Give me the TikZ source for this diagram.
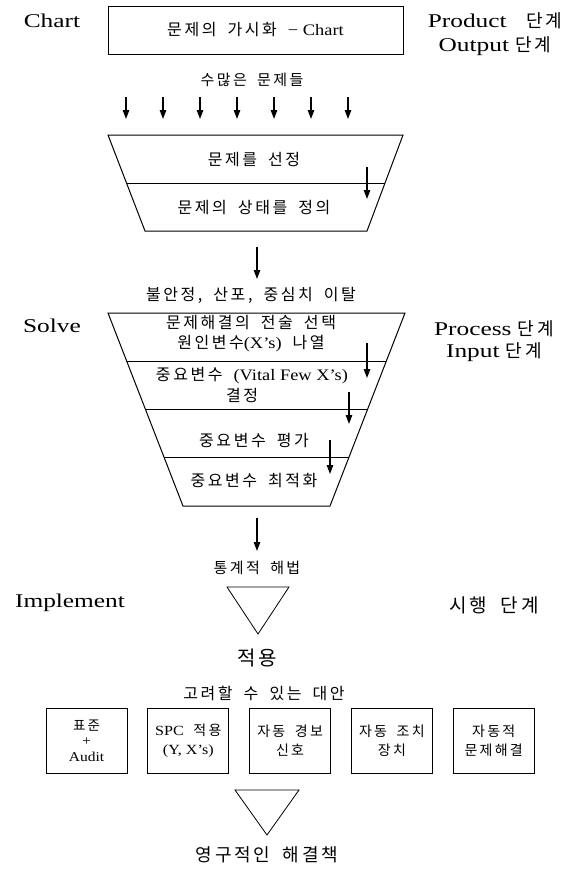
\documentclass[tikz,border=0pt]{standalone}
\usepackage{fontspec}
\setmainfont{Liberation Serif}[FakeStretch=1.15]
\newfontfamily\lat{Liberation Serif}[FakeStretch=1.3]
\newfontfamily\kr{Noto Sans CJK KR}[LetterSpace=16,WordSpace=1.8]
\usetikzlibrary{arrows.meta,positioning,calc}

\begin{document}
\begin{tikzpicture}[x=1pt, y=-1pt, node distance=20pt]
    \tikzstyle{stage} = [font=\lat\fontsize{19.5}{24}\selectfont, inner sep=0pt]
    \tikzstyle{phase} = [font=\kr\fontsize{19}{22}\selectfont, inner sep=0pt]
    \tikzstyle{band} = [font=\kr\fontsize{16}{20}\selectfont, inner sep=0pt, align=center]
    \tikzstyle{note} = [font=\kr\fontsize{15}{18}\selectfont, inner sep=0pt]
    \tikzstyle{alt} = [rectangle, draw, line width=0.8pt, minimum width=81pt, minimum height=65pt, inner sep=0pt, align=center, font=\kr\fontsize{14}{19}\selectfont]
    \tikzstyle{outline} = [draw, line width=1pt]
    \tikzstyle{line} = [draw, line width=1.2pt, -{Triangle[length=9pt,width=6.5pt]}]

    \useasboundingbox (0,0) rectangle (576,870);

    % stage labels
    \node [stage] (chart) at (52,21) {Chart};
    \node [stage] (solve) at (52,326) {Solve};
    \node [stage] (impl) at (70,603) {Implement};
    \node [stage] (prod) at (495,21) {Product\quad{\kr\fontsize{18}{20}\selectfont 단계}};
    \node [stage] (outp) at (495,46) {Output {\kr\fontsize{18}{20}\selectfont 단계}};
    \node [stage] (proc) at (494,329) {Process {\kr\fontsize{18}{20}\selectfont 단계}};
    \node [stage] (inp) at (494,352) {Input {\kr\fontsize{18}{20}\selectfont 단계}};
    \node [phase] (exec) at (494,605) {시행 단계};

    % chart
    \node [rectangle, draw, line width=0.8pt, minimum width=295pt, minimum height=48pt, band] (vis) at (255.5,30) {문제의 가시화 {\rmfamily − Chart}};
    \node [note] (many) at (252,80) {수많은 문제들};
    \foreach \i in {0,...,6} {
        \coordinate (p\i) at (126+37*\i,97);
        \coordinate (q\i) at (126+37*\i,119);
        \path [line] (p\i) -- (q\i);
    }

    % first funnel
    \coordinate (f1a) at (108,135);
    \coordinate (f1b) at (403,135);
    \coordinate (f1c) at (367,231);
    \coordinate (f1d) at (145,231);
    \draw [outline] (f1a) -- (f1b) -- (f1c) -- (f1d) -- cycle;
    \draw [outline] ($(f1a)!0.5!(f1d)$) -- ($(f1b)!0.5!(f1c)$);
    \node [band] (select) at (254,160) {문제를 선정};
    \node [band] (define) at (254,208) {문제의 상태를 정의};
    \coordinate (s1) at (367,167);
    \coordinate (e1) at (367,199);
    \path [line] (s1) -- (e1);

    \coordinate (s2) at (257,247);
    \coordinate (e2) at (257,279);
    \path [line] (s2) -- (e2);
    \node [band] (cause) at (251,295) {불안정, 산포, 중심치 이탈};

    % second funnel
    \coordinate (f2a) at (108,313);
    \coordinate (f2b) at (405,313);
    \coordinate (f2c) at (330,506);
    \coordinate (f2d) at (183,506);
    \draw [outline] (f2a) -- (f2b) -- (f2c) -- (f2d) -- cycle;
    \foreach \f in {0.25,0.5,0.75}
        \draw [outline] ($(f2a)!\f!(f2d)$) -- ($(f2b)!\f!(f2c)$);
    \node [band] (tactic) at (251,334) {문제해결의 전술 선택\\원인변수{\rmfamily (X's)} 나열};
    \node [band] (vital) at (252,376) {중요변수 {\rmfamily (Vital Few X's)}};
    \node [band] (decide) at (242,395) {결정};
    \node [band] (assess) at (254,441) {중요변수 평가};
    \node [band] (optim) at (254,481) {중요변수 최적화};
    \coordinate (s3) at (367,343);
    \coordinate (e3) at (367,378);
    \path [line] (s3) -- (e3);
    \coordinate (s4) at (349,392);
    \coordinate (e4) at (349,424);
    \path [line] (s4) -- (e4);
    \coordinate (s5) at (330,440);
    \coordinate (e5) at (330,474);
    \path [line] (s5) -- (e5);

    % implement
    \coordinate (s6) at (257,518);
    \coordinate (e6) at (257,551);
    \path [line] (s6) -- (e6);
    \node [note] (stat) at (257,568) {통계적 해법};
    \coordinate (g1a) at (227,587);
    \coordinate (g1b) at (289,587);
    \coordinate (g1c) at (258,634);
    \draw [outline, line width=0.8pt] (g1a) -- (g1b) -- (g1c) -- cycle;
    \node [phase, font=\kr\fontsize{20}{22}\selectfont] (apply) at (257,658) {적용};
    \node [band] (option) at (264,693) {고려할 수 있는 대안};

    \node [alt, font=\kr\fontsize{13.5}{15.5}\selectfont] (std) at (86.5,740.5) {표준\\{\rmfamily +}\\{\rmfamily Audit}};
    \node [alt, right=of std] (spc) {{\rmfamily SPC} 적용\\{\rmfamily (Y, X's)}};
    \node [alt, right=of spc] (alarm) {자동 경보\\신호};
    \node [alt, right=of alarm] (action) {자동 조치\\장치};
    \node [alt, right=of action] (auto) {자동적\\문제해결};

    \coordinate (g2a) at (235,790);
    \coordinate (g2b) at (299,790);
    \coordinate (g2c) at (267,835);
    \draw [outline, line width=0.8pt] (g2a) -- (g2b) -- (g2c) -- cycle;
    \node [phase, font=\kr\fontsize{18}{20}\selectfont] (perm) at (267,855) {영구적인 해결책};
\end{tikzpicture}
\end{document}
